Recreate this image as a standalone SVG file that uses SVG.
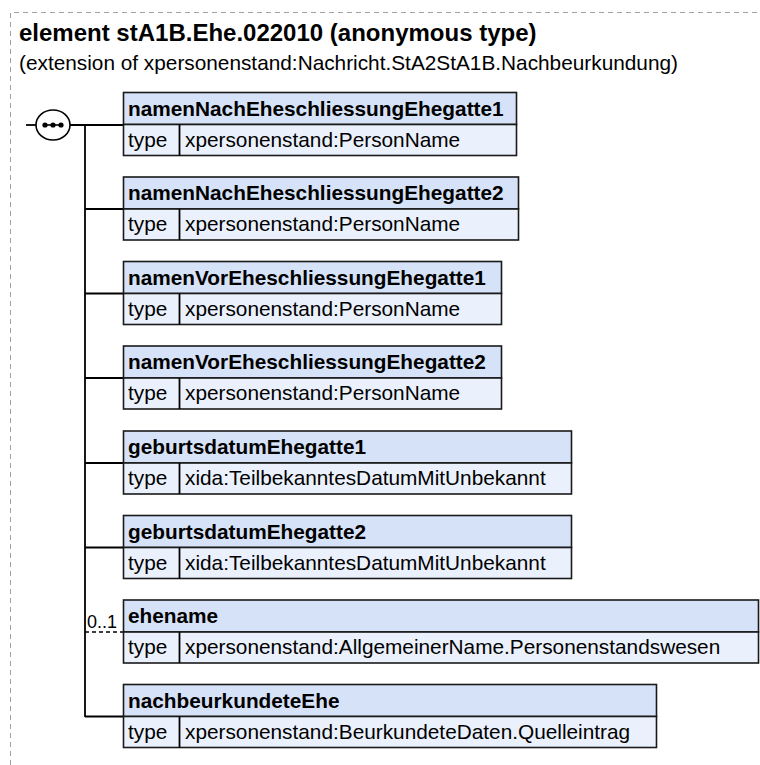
<svg xmlns="http://www.w3.org/2000/svg" width="760" height="765" viewBox="0 0 760 765">
<style>
.frame{fill:none;stroke:#a0a0a0;stroke-width:1;stroke-dasharray:5,4}
.title{font-family:"Liberation Sans",Arial,sans-serif;font-weight:bold;font-size:24px;fill:#000}
.sub{font-family:"Liberation Sans",Arial,sans-serif;font-size:20.8px;fill:#000}
.hd{fill:#d6e2f7;stroke:#1a1a1a;stroke-width:1.6}
.tr{fill:#ebf1fc;stroke:#1a1a1a;stroke-width:1.6}
.nm{font-family:"Liberation Sans",Arial,sans-serif;font-weight:bold;font-size:20.8px;fill:#000}
.tx{font-family:"Liberation Sans",Arial,sans-serif;font-size:20.8px;fill:#000}
.card{font-family:"Liberation Sans",Arial,sans-serif;font-size:18px;fill:#000}
.ln{fill:none;stroke:#000;stroke-width:1.8}
.dl{fill:none;stroke:#000;stroke-width:1.6;stroke-dasharray:4,3}
</style>
<path class="frame" d="M10.5,765 L10.5,12.5 L760,12.5"/>
<text class="title" x="19" y="41">element stA1B.Ehe.022010 (anonymous type)</text>
<text class="sub" x="19" y="70">(extension of xpersonenstand:Nachricht.StA2StA1B.Nachbeurkundung)</text>

<g id="connectors">
<line class="ln" x1="26" y1="125" x2="36" y2="125"/>
<line class="ln" x1="70" y1="125" x2="123" y2="125"/>
<line class="ln" x1="85" y1="125" x2="85" y2="717"/>
<line class="ln" x1="85" y1="209" x2="123" y2="209"/>
<line class="ln" x1="85" y1="293.5" x2="123" y2="293.5"/>
<line class="ln" x1="85" y1="378" x2="123" y2="378"/>
<line class="ln" x1="85" y1="463" x2="123" y2="463"/>
<line class="ln" x1="85" y1="547.5" x2="123" y2="547.5"/>
<line class="dl" x1="85" y1="632" x2="123" y2="632"/>
<line class="ln" x1="85" y1="716.5" x2="123" y2="716.5"/>
<text class="card" x="87" y="628">0..1</text>
</g>

<g id="sequence">
<ellipse cx="53" cy="125" rx="17" ry="15" fill="#fff" stroke="#000" stroke-width="1.6"/>
<line x1="44" y1="125" x2="62" y2="125" stroke="#000" stroke-width="1.6"/>
<circle cx="45" cy="125" r="2.6" fill="#000"/>
<circle cx="53" cy="125" r="2.6" fill="#000"/>
<circle cx="61" cy="125" r="2.6" fill="#000"/>
</g>

<g id="n1">
<rect class="hd" x="123.5" y="92.5" width="393" height="32"/>
<rect class="tr" x="123.5" y="124.5" width="393" height="31"/>
<line class="ln" x1="179.5" y1="124.5" x2="179.5" y2="155.5"/>
<text class="nm" x="128" y="115.5">namenNachEheschliessungEhegatte1</text>
<text class="tx" x="128" y="146.5">type</text>
<text class="tx" x="185" y="146.5">xpersonenstand:PersonName</text>
</g>

<g id="n2">
<rect class="hd" x="123.5" y="177" width="395" height="32"/>
<rect class="tr" x="123.5" y="209" width="395" height="31"/>
<line class="ln" x1="179.5" y1="209" x2="179.5" y2="240"/>
<text class="nm" x="128" y="200">namenNachEheschliessungEhegatte2</text>
<text class="tx" x="128" y="231">type</text>
<text class="tx" x="185" y="231">xpersonenstand:PersonName</text>
</g>

<g id="n3">
<rect class="hd" x="123.5" y="261.5" width="378" height="32"/>
<rect class="tr" x="123.5" y="293.5" width="378" height="31"/>
<line class="ln" x1="179.5" y1="293.5" x2="179.5" y2="324.5"/>
<text class="nm" x="128" y="284.5">namenVorEheschliessungEhegatte1</text>
<text class="tx" x="128" y="315.5">type</text>
<text class="tx" x="185" y="315.5">xpersonenstand:PersonName</text>
</g>

<g id="n4">
<rect class="hd" x="123.5" y="346" width="378" height="32"/>
<rect class="tr" x="123.5" y="378" width="378" height="31"/>
<line class="ln" x1="179.5" y1="378" x2="179.5" y2="409"/>
<text class="nm" x="128" y="369">namenVorEheschliessungEhegatte2</text>
<text class="tx" x="128" y="400">type</text>
<text class="tx" x="185" y="400">xpersonenstand:PersonName</text>
</g>

<g id="n5">
<rect class="hd" x="123.5" y="431" width="448" height="32"/>
<rect class="tr" x="123.5" y="463" width="448" height="31"/>
<line class="ln" x1="179.5" y1="463" x2="179.5" y2="494"/>
<text class="nm" x="128" y="454">geburtsdatumEhegatte1</text>
<text class="tx" x="128" y="485">type</text>
<text class="tx" x="185" y="485">xida:TeilbekanntesDatumMitUnbekannt</text>
</g>

<g id="n6">
<rect class="hd" x="123.5" y="515.5" width="448" height="32"/>
<rect class="tr" x="123.5" y="547.5" width="448" height="31"/>
<line class="ln" x1="179.5" y1="547.5" x2="179.5" y2="578.5"/>
<text class="nm" x="128" y="538.5">geburtsdatumEhegatte2</text>
<text class="tx" x="128" y="569.5">type</text>
<text class="tx" x="185" y="569.5">xida:TeilbekanntesDatumMitUnbekannt</text>
</g>

<g id="n7">
<rect class="hd" x="123.5" y="600" width="635" height="32"/>
<rect class="tr" x="123.5" y="632" width="635" height="31"/>
<line class="ln" x1="179.5" y1="632" x2="179.5" y2="663"/>
<text class="nm" x="128" y="623">ehename</text>
<text class="tx" x="128" y="654">type</text>
<text class="tx" x="185" y="654">xpersonenstand:AllgemeinerName.Personenstandswesen</text>
</g>

<g id="n8">
<rect class="hd" x="123.5" y="684.5" width="533" height="32"/>
<rect class="tr" x="123.5" y="716.5" width="533" height="31"/>
<line class="ln" x1="179.5" y1="716.5" x2="179.5" y2="747.5"/>
<text class="nm" x="128" y="707.5">nachbeurkundeteEhe</text>
<text class="tx" x="128" y="738.5">type</text>
<text class="tx" x="185" y="738.5">xpersonenstand:BeurkundeteDaten.Quelleintrag</text>
</g>
</svg>
